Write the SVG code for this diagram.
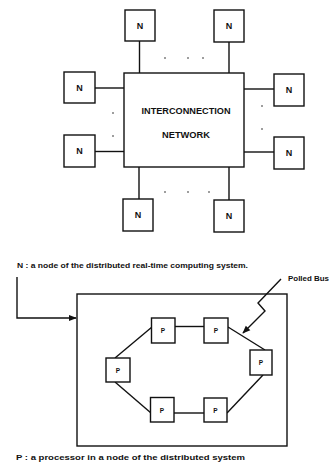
<svg xmlns="http://www.w3.org/2000/svg" width="329" height="464" viewBox="0 0 329 464">
<style>
.box{fill:#fff;stroke:#111;stroke-width:1.4}
.frame{fill:none;stroke:#111;stroke-width:1.4}
.ln{fill:none;stroke:#111;stroke-width:1.4}
.n{font-family:"Liberation Sans",Arial,sans-serif;font-weight:bold;font-size:9px;fill:#111;text-anchor:middle}
.p{font-family:"Liberation Sans",Arial,sans-serif;font-weight:bold;font-size:6.5px;fill:#111;text-anchor:middle}
.t{font-family:"Liberation Sans",Arial,sans-serif;font-weight:bold;font-size:7px;fill:#111}
.dot{fill:#222}
</style>
<defs>
<marker id="ah" viewBox="0 0 10 10" refX="9" refY="5" markerWidth="8" markerHeight="8" markerUnits="userSpaceOnUse" orient="auto">
<path d="M0,1 L10,5 L0,9 z" fill="#111"/>
</marker>
</defs>
<g id="node-box">
<rect class="frame" x="77" y="294" width="210" height="152"/>
</g>
<g id="connectors">
<line class="ln" x1="139.5" y1="41" x2="139.5" y2="73"/>
<line class="ln" x1="229" y1="42" x2="229" y2="73"/>
<line class="ln" x1="95" y1="88" x2="124" y2="88"/>
<line class="ln" x1="95" y1="151.5" x2="124" y2="151.5"/>
<line class="ln" x1="244" y1="89" x2="274" y2="89"/>
<line class="ln" x1="244" y1="152" x2="274" y2="152"/>
<line class="ln" x1="139" y1="167" x2="139" y2="199"/>
<line class="ln" x1="229" y1="167" x2="229" y2="200"/>
<polyline class="ln" points="17,277 17,318 76,318" marker-end="url(#ah)"/>
<line class="ln" x1="115" y1="358" x2="152" y2="327"/>
<line class="ln" x1="175" y1="326.5" x2="204" y2="326.5"/>
<line class="ln" x1="228" y1="327" x2="265" y2="350"/>
<line class="ln" x1="115" y1="382" x2="151" y2="413"/>
<line class="ln" x1="174" y1="413" x2="204" y2="413"/>
<line class="ln" x1="227" y1="413" x2="263" y2="375"/>
<polyline class="ln" points="281,279 258,303 265,311 243,333" marker-end="url(#ah)"/>
</g>
<g id="dots">
<circle class="dot" cx="165" cy="58" r="0.8"/>
<circle class="dot" cx="188" cy="58" r="0.8"/>
<circle class="dot" cx="203" cy="58" r="0.8"/>
<circle class="dot" cx="113" cy="113" r="0.8"/>
<circle class="dot" cx="113" cy="136" r="0.8"/>
<circle class="dot" cx="262" cy="106" r="0.8"/>
<circle class="dot" cx="262" cy="129" r="0.8"/>
<circle class="dot" cx="165" cy="192" r="0.8"/>
<circle class="dot" cx="188" cy="192" r="0.8"/>
<circle class="dot" cx="209" cy="192" r="0.8"/>
</g>
<g id="network">
<rect class="box" x="124" y="73" width="120" height="94"/>
<text class="n" x="186" y="114" textLength="89" lengthAdjust="spacingAndGlyphs">INTERCONNECTION</text>
<text class="n" x="186" y="138" textLength="48" lengthAdjust="spacingAndGlyphs">NETWORK</text>
</g>
<g id="n1"><rect class="box" x="125" y="10" width="30" height="31"/><text class="n" x="140" y="28.5">N</text></g>
<g id="n2"><rect class="box" x="214" y="10" width="30" height="32"/><text class="n" x="229" y="29">N</text></g>
<g id="n3"><rect class="box" x="64" y="72" width="31" height="31"/><text class="n" x="79.5" y="90.5">N</text></g>
<g id="n4"><rect class="box" x="64" y="135" width="31" height="32"/><text class="n" x="79.5" y="154">N</text></g>
<g id="n5"><rect class="box" x="274" y="74" width="30" height="32"/><text class="n" x="289" y="93">N</text></g>
<g id="n6"><rect class="box" x="274" y="137" width="30" height="32"/><text class="n" x="289" y="156">N</text></g>
<g id="n7"><rect class="box" x="123" y="199" width="30" height="32"/><text class="n" x="138" y="218">N</text></g>
<g id="n8"><rect class="box" x="214" y="200" width="30" height="32"/><text class="n" x="229" y="219">N</text></g>
<text class="t" x="17" y="267.5" textLength="231" lengthAdjust="spacingAndGlyphs">N : a node of the distributed real-time computing system.</text>
<g id="p1"><rect class="box" x="151.5" y="318" width="23.5" height="25"/><text class="p" x="163" y="333">P</text></g>
<g id="p2"><rect class="box" x="204" y="318" width="24" height="25"/><text class="p" x="216" y="333">P</text></g>
<g id="p3"><rect class="box" x="250" y="350" width="22" height="25"/><text class="p" x="261" y="365">P</text></g>
<g id="p4"><rect class="box" x="106" y="358" width="24" height="24"/><text class="p" x="118" y="372.5">P</text></g>
<g id="p5"><rect class="box" x="150.5" y="397.5" width="23.5" height="24.5"/><text class="p" x="162" y="412.5">P</text></g>
<g id="p6"><rect class="box" x="204" y="398" width="23" height="24"/><text class="p" x="215.5" y="412.5">P</text></g>
<text class="t" x="288" y="280.5" textLength="41" lengthAdjust="spacingAndGlyphs">Polled Bus</text>
<text class="t" x="16" y="459.5" textLength="229" lengthAdjust="spacingAndGlyphs">P : a processor in a node of the distributed system</text>
</svg>
